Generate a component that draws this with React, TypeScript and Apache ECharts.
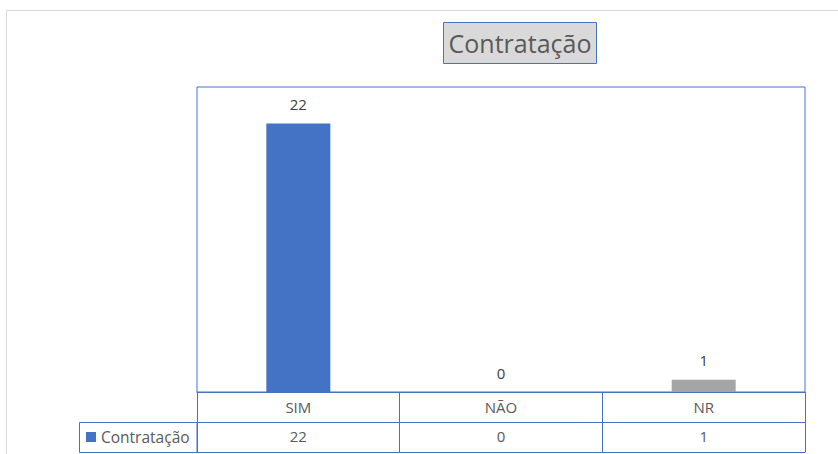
import React, { useEffect, useRef } from "react";
import * as echarts from "echarts";

const categories = ["SIM", "NÃO", "NR"];
const values = [22, 0, 1];
const barColors = ["#4472C4", "#ED7D31", "#A5A5A5"];
const seriesName = "Contratação";
const titleText = "Contratação";

const FONT = "'Open Sans', 'Noto Sans', sans-serif";
const BLUE = "#4472C4";

export default function App() {
  const ref = useRef<HTMLDivElement>(null);
  useEffect(() => {
    if (!ref.current) return;
    const chart = echarts.init(ref.current, undefined, { renderer: "svg" });
    chart.setOption({
      animation: false,
      backgroundColor: "#fff",
      textStyle: { fontFamily: FONT },
      grid: { left: 197, top: 87, width: 608, height: 305, show: true, borderColor: BLUE, borderWidth: 1 },
      legend: {
        data: [{ name: seriesName, icon: "rect" }],
        left: 86,
        top: 429,
        itemWidth: 10,
        itemHeight: 10,
        itemGap: 4,
        padding: 0,
        textStyle: { fontSize: 15.5, color: "#595959", fontFamily: FONT },
      },
      xAxis: [
        {
          type: "category",
          data: categories,
          position: "bottom",
          axisLine: { show: true, lineStyle: { color: BLUE, width: 1 } },
          axisTick: { show: true, length: 60, lineStyle: { color: BLUE, width: 1 } },
          axisLabel: { fontSize: 15, color: "#595959", margin: 7, fontFamily: FONT },
          splitLine: { show: false },
        },
        {
          type: "category",
          data: values.map(String),
          position: "bottom",
          offset: 30,
          axisLine: { show: true, lineStyle: { color: BLUE, width: 1 } },
          axisTick: { show: false },
          axisLabel: { fontSize: 15, color: "#595959", margin: 6, fontFamily: FONT },
        },
        {
          type: "category",
          data: categories,
          position: "bottom",
          offset: 60,
          axisLine: { show: true, lineStyle: { color: BLUE, width: 1 } },
          axisTick: { show: false },
          axisLabel: { show: false },
        },
      ],
      yAxis: {
        type: "value",
        min: 0,
        max: 25,
        show: false,
        splitLine: { show: false },
      },
      series: [
        {
          name: seriesName,
          type: "bar",
          xAxisIndex: 0,
          barWidth: 64,
          itemStyle: { color: BLUE },
          data: values.map((v, i) => ({ value: v, itemStyle: { color: barColors[i] } })),
          label: { show: true, position: "top", distance: 12, fontSize: 15, color: "#404040", fontFamily: FONT },
        },
      ],
      graphic: [
        {
          type: "rect",
          shape: { x: 6.5, y: 10.5, width: 900, height: 500 },
          style: { fill: "none", stroke: "#D9D9D9", lineWidth: 1 },
          silent: true,
        },
        {
          type: "rect",
          shape: { x: 79.5, y: 422.5, width: 117.5, height: 30 },
          style: { fill: "none", stroke: BLUE, lineWidth: 1 },
          silent: true,
        },
        {
          type: "rect",
          shape: { x: 443.5, y: 22.5, width: 153, height: 41 },
          style: { fill: "#D9D9D9", stroke: BLUE, lineWidth: 1 },
          silent: true,
        },
        {
          type: "text",
          x: 520,
          y: 43,
          style: {
            text: titleText,
            fontSize: 25,
            fontFamily: FONT,
            fill: "#595959",
            align: "center",
            verticalAlign: "middle",
          },
        },
      ],
    });
    return () => chart.dispose();
  }, []);
  return <div ref={ref} style={{ position: "fixed", left: 0, top: 0, width: 838, height: 454 }} />;
}
